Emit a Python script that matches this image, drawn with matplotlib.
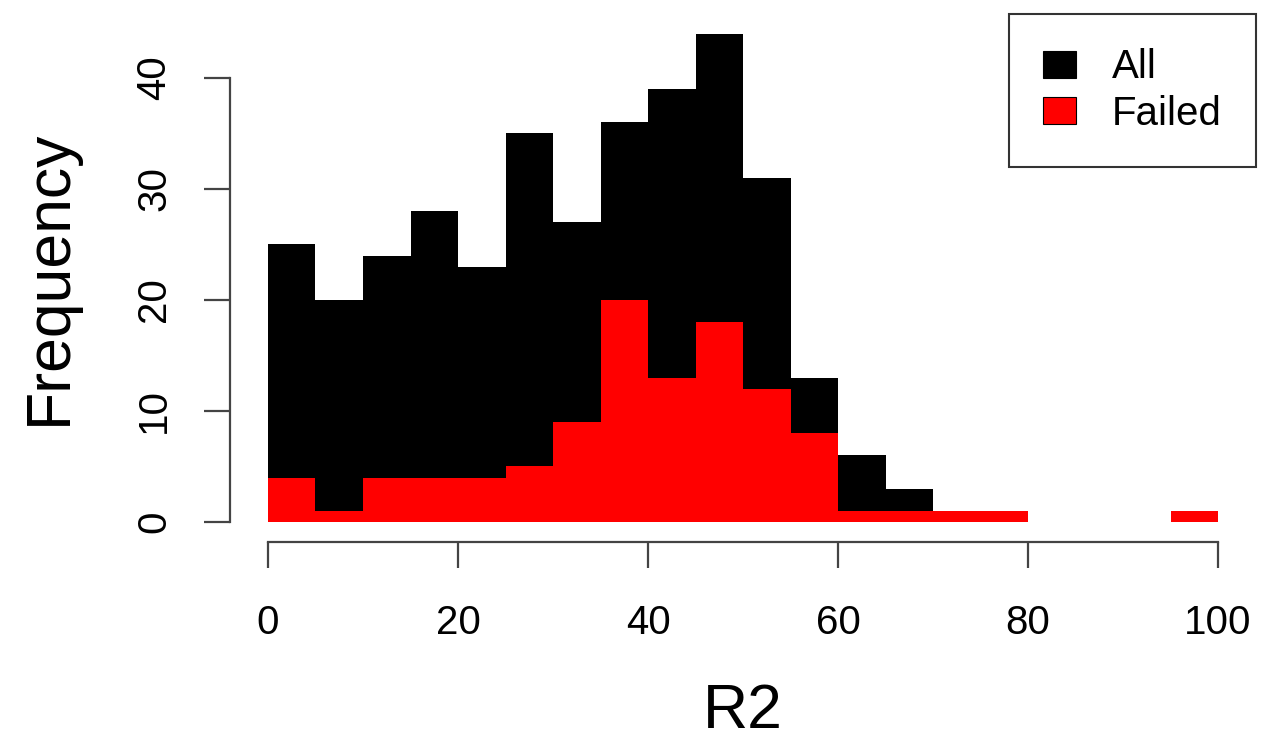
import numpy as np
import matplotlib.pyplot as plt

plt.rcParams['font.family'] = ['Liberation Sans', 'DejaVu Sans']

# histogram counts per 5-unit bin of R2 (0-100)
bin_edges = np.arange(0, 105, 5)
all_counts = [25, 20, 24, 28, 23, 35, 27, 36, 39, 44, 31, 13, 6, 3, 1, 1, 0, 0, 0, 1]
failed_counts = [4, 1, 4, 4, 4, 5, 9, 20, 13, 18, 12, 8, 1, 1, 1, 1, 0, 0, 0, 1]
x_ticks = [0, 20, 40, 60, 80, 100]
y_ticks = [0, 10, 20, 30, 40]

fig = plt.figure(figsize=(12.63, 7.47), dpi=100)
ax = fig.add_axes([0.1821, 0.2751, 0.9945 - 0.1821, 0.9813 - 0.2751])

ax.bar(bin_edges[:-1], all_counts, width=5, align='edge', color='black', linewidth=0, label='All')
ax.bar(bin_edges[:-1], failed_counts, width=5, align='edge', color='#ff0000', linewidth=0, label='Failed')

ax.set_xlim(-4, 104)
ax.set_ylim(-1.76, 45.76)

axis_col = '#444444'
for s in ['top', 'right']:
    ax.spines[s].set_visible(False)
ax.spines['left'].set_bounds(0, 40)
ax.spines['bottom'].set_bounds(0, 100)
for s in ['left', 'bottom']:
    ax.spines[s].set_color(axis_col)
    ax.spines[s].set_linewidth(1.6)

ax.set_xticks(x_ticks)
ax.set_yticks(y_ticks)
ax.tick_params(axis='both', length=19, width=1.6, color=axis_col, labelsize=29, pad=22)
ax.tick_params(axis='x', pad=26)
ax.tick_params(axis='y', labelrotation=90)
for lab in ax.get_yticklabels():
    lab.set_va('center')

ax.set_xlabel('R2', fontsize=45, va='center')
ax.xaxis.set_label_coords(0.5, -0.323)
ax.set_ylabel('Frequency', fontsize=45, va='center')
ax.yaxis.set_label_coords(-0.176, 0.5)

leg = ax.legend(loc='upper right', fontsize=29, frameon=True, fancybox=False,
                edgecolor='black', borderaxespad=0, handlelength=0.8, handleheight=0.65,
                handletextpad=0.9, labelspacing=0.22, borderpad=0.85)
leg.get_frame().set_linewidth(1.5)
for h in leg.legend_handles:
    h.set_edgecolor('black')
    h.set_linewidth(0.8)

fig.savefig('out.png', dpi=100)
